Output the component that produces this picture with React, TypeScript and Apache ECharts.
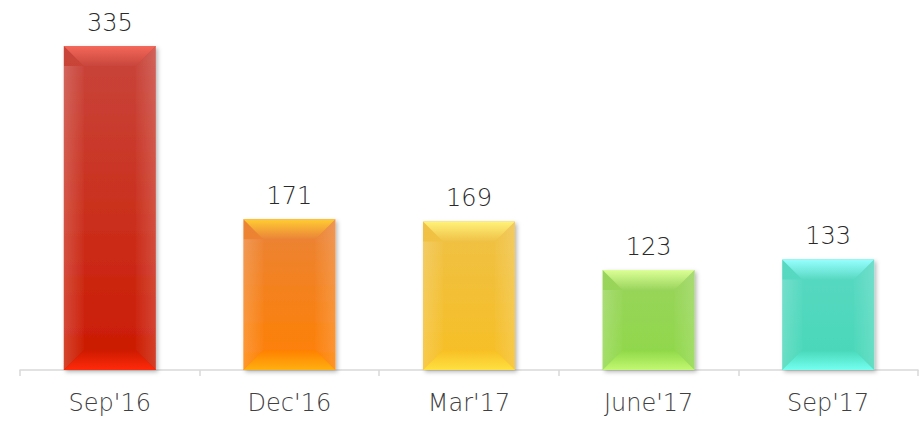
import React, { useEffect, useRef } from "react";
import * as echarts from "echarts";

const categories = ["Sep'16", "Dec'16", "Mar'17", "June'17", "Sep'17"];
const values = [335, 171, 169, 123, 133];
// per-bar colours: top edge, body top, body bottom, bottom edge
const topEdge = ["#f4685a", "#ffcc33", "#fff27a", "#dcff96", "#96ffff"];
const bodyTop = ["#c8463c", "#ea8338", "#efc146", "#99d45c", "#58d8c2"];
const bodyBottom = ["#cc1a00", "#ff8000", "#f7bf24", "#8fd848", "#48d8b8"];
const bottomEdge = ["#ff2a0a", "#ffb010", "#ffe040", "#c2f872", "#74fff0"];

const Y_MIN = 28.4;
const Y_MAX = 335;
const BAR_W = 92;
const BEVEL = 20;
const FONT = "DejaVu Sans";

function vgrad(c1: string, c2: string) {
  return new echarts.graphic.LinearGradient(0, 0, 0, 1, [
    { offset: 0, color: c1 },
    { offset: 1, color: c2 },
  ]);
}
function hgrad(c1: string, c2: string) {
  return new echarts.graphic.LinearGradient(0, 0, 1, 0, [
    { offset: 0, color: c1 },
    { offset: 1, color: c2 },
  ]);
}

export default function App() {
  const ref = useRef<HTMLDivElement>(null);
  useEffect(() => {
    document.body.style.margin = "0";
    const chart = echarts.init(ref.current!, undefined, { renderer: "svg" });
    chart.setOption({
      animation: false,
      grid: { left: 20, right: 4, top: 46, bottom: 52, containLabel: false },
      xAxis: {
        type: "category",
        data: categories,
        axisLine: { lineStyle: { color: "#d9d9d9", width: 1.5 } },
        axisTick: { show: true, length: 6, lineStyle: { color: "#d9d9d9", width: 1.5 } },
        axisLabel: { color: "#404040", fontSize: 24, fontWeight: 200, fontFamily: FONT, margin: 21 },
      },
      yAxis: {
        type: "value",
        min: Y_MIN,
        max: Y_MAX,
        show: false,
        splitLine: { show: false },
      },
      series: [
        {
          type: "bar",
          barWidth: BAR_W,
          data: values.map((v, i) => ({
            value: v,
            itemStyle: {
              color: vgrad(bodyTop[i], bodyBottom[i]),
              shadowColor: "rgba(0,0,0,0.28)",
              shadowBlur: 4,
              shadowOffsetX: 2,
              shadowOffsetY: 2,
            },
          })),
          label: {
            show: true,
            position: "top",
            distance: 11,
            color: "#2a2a2a",
            fontSize: 24,
            fontWeight: 200,
            fontFamily: FONT,
          },
          z: 2,
        },
        {
          type: "custom",
          z: 3,
          silent: true,
          data: values.map((v, i) => [i, v]),
          renderItem: (params: any, api: any) => {
            const i = api.value(0);
            const top = api.coord([i, api.value(1)]);
            const base = api.coord([i, Y_MIN]);
            const x0 = top[0] - BAR_W / 2;
            const x1 = top[0] + BAR_W / 2;
            const y0 = top[1];
            const y1 = base[1];
            const d = BEVEL;
            return {
              type: "group",
              children: [
                {
                  type: "polygon",
                  shape: { points: [[x0, y0 + d], [x0 + d, y0 + d], [x0 + d, y1 - d], [x0, y1]] },
                  style: { fill: hgrad("rgba(255,255,255,0.18)", "rgba(255,255,255,0.02)") },
                },
                {
                  type: "polygon",
                  shape: { points: [[x1, y0], [x1 - d, y0 + d], [x1 - d, y1 - d], [x1, y1]] },
                  style: { fill: hgrad("rgba(255,255,255,0.02)", "rgba(255,255,255,0.16)") },
                },
                {
                  type: "polygon",
                  shape: { points: [[x0, y0], [x1, y0], [x1 - d, y0 + d], [x0 + d, y0 + d]] },
                  style: { fill: vgrad(topEdge[i], bodyTop[i]) },
                },
                {
                  type: "polygon",
                  shape: { points: [[x0 + d, y1 - d], [x1 - d, y1 - d], [x1, y1], [x0, y1]] },
                  style: { fill: vgrad(bodyBottom[i], bottomEdge[i]) },
                },
              ],
            };
          },
        },
      ],
    });
    return () => chart.dispose();
  }, []);
  return <div ref={ref} style={{ width: 922, height: 422 }} />;
}
